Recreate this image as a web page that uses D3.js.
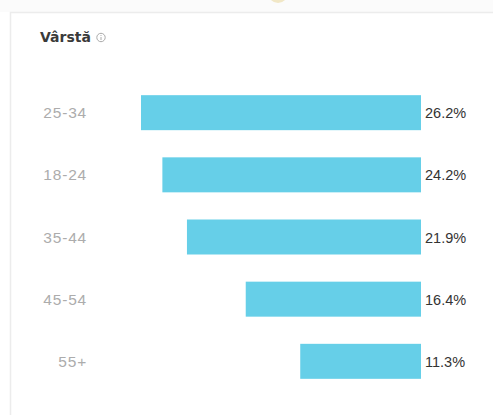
<!DOCTYPE html>
<html><head><meta charset="utf-8">
<script src="https://cdn.jsdelivr.net/npm/d3@7"></script>
<style>html,body{margin:0;padding:0;background:#fff;}svg{display:block;}</style>
</head><body>
<svg id="c" width="493" height="415"></svg>
<script>
const categories = ["25-34", "18-24", "35-44", "45-54", "55+"];
const values = [26.2, 24.2, 21.9, 16.4, 11.3];
const valueLabels = ["26.2%", "24.2%", "21.9%", "16.4%", "11.3%"];
const title = "Vârstă";

const svg = d3.select("#c");
svg.append("rect").attr("x",0).attr("y",0).attr("width",493).attr("height",12).attr("fill","#fbfbfb");
svg.append("circle").attr("cx",278).attr("cy",-7).attr("r",10).attr("fill","#f1e7c6");
svg.append("rect").attr("x",10.5).attr("y",12.5).attr("width",500).attr("height",420)
  .attr("fill","#fff").attr("stroke","#ececec").attr("stroke-width",1.5);

svg.append("text").attr("x",40).attr("y",42).text(title)
  .attr("font-family","DejaVu Sans").attr("font-weight","bold").attr("font-size",14).attr("fill","#3a3a3a");
const ic = svg.append("g").attr("transform","translate(101,37.5)");
ic.append("circle").attr("r",4.2).attr("fill","none").attr("stroke","#aaa").attr("stroke-width",1);
ic.append("line").attr("x1",0).attr("x2",0).attr("y1",-0.5).attr("y2",2.5).attr("stroke","#aaa").attr("stroke-width",1);
ic.append("circle").attr("cy",-2).attr("r",0.6).attr("fill","#aaa");

const right = 421;
const x = d3.scaleLinear().domain([0, 26.2]).range([0, 280]);
const y = d3.scaleBand().domain(categories).range([81.5, 392.5]).paddingInner(0.437).paddingOuter(0.22);

svg.selectAll(".bar").data(categories).enter().append("rect")
  .attr("x",(d,i)=>right - x(values[i]))
  .attr("y",d=>y(d))
  .attr("width",(d,i)=>x(values[i]))
  .attr("height",y.bandwidth())
  .attr("fill","#66cfe8");

svg.selectAll(".cat").data(categories).enter().append("text")
  .attr("x",87).attr("y",d=>y(d)+y.bandwidth()/2+5.5)
  .attr("text-anchor","end")
  .attr("font-family","Liberation Sans").attr("font-size",15.5).attr("letter-spacing",0.8).attr("fill","#acacac")
  .text(d=>d);

svg.selectAll(".val").data(categories).enter().append("text")
  .attr("x",425).attr("y",d=>y(d)+y.bandwidth()/2+5.5)
  .attr("font-family","Liberation Sans").attr("font-size",14.5).attr("fill","#333")
  .text((d,i)=>valueLabels[i]);
</script>
</body></html>
